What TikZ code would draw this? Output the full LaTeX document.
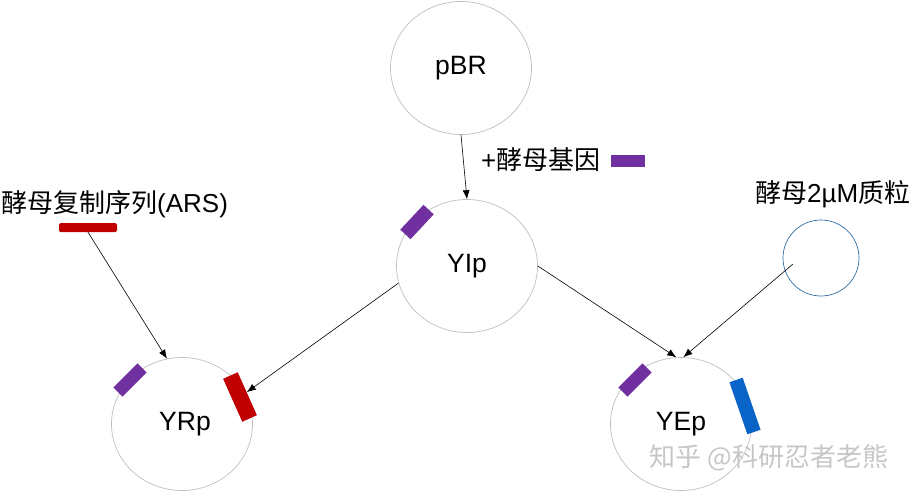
\documentclass[tikz,border=0pt]{standalone}
\usepackage{fontspec}
\setmainfont{Liberation Sans}
\newfontfamily\cjk{Noto Sans CJK SC}
\usetikzlibrary{arrows.meta,shapes.geometric}
\definecolor{ringgray}{HTML}{BFBFBF}
\definecolor{genepurple}{HTML}{7030A0}
\definecolor{arsred}{HTML}{C00000}
\definecolor{twomublue}{HTML}{0A64C8}
\definecolor{twomuring}{HTML}{2E6DA4}
\tikzset{
  plasmid/.style={draw=ringgray, line width=0.7pt, ellipse, minimum width=141pt,
    minimum height=133pt, inner sep=0pt, font=\fontsize{26.5}{30}\selectfont},
  genebar/.style={fill=#1, inner sep=0pt},
  link/.style={-{Latex[length=9pt,width=7pt]}, line width=0.6pt},
  caption/.style={anchor=west, inner sep=0pt, font=\fontsize{26}{30}\selectfont},
}
\begin{document}
\begin{tikzpicture}[x=1pt,y=-1pt]
  \useasboundingbox (0,0) rectangle (916,496);
  % plasmids
  \node[plasmid] (pbr) at (461,68) {pBR};
  \node[plasmid] (yip) at (467,266) {YIp};
  \node[plasmid] (yrp) at (182,424) {\hspace{6pt}YRp};
  \node[plasmid] (yep) at (681,424) {YEp};
  \node[circle, draw=twomuring, line width=0.7pt, minimum size=76pt, inner sep=0pt] (twomu) at (821,258) {};
  \coordinate (twomuin) at (793,264);
  % captions
  \node[caption] (genetext) at (481,160) {+{\cjk 酵母基因}};
  \node[caption] (arstext) at (1,204) {{\cjk 酵母复制序列}(ARS)};
  \node[caption] (twomutext) at (755,194) {{\cjk 酵母}2µM{\cjk 质粒}};
  % gene pieces
  \node[genebar=genepurple, minimum width=34pt, minimum height=12pt] (genebar) at (628,161) {};
  \node[genebar=arsred, minimum width=58pt, minimum height=9pt, rounded corners=1.5pt] (arsbar) at (88,227.5) {};
  \node[genebar=genepurple, minimum width=34pt, minimum height=14pt, rotate=47] (yipgene) at (417,222) {};
  \node[genebar=genepurple, minimum width=34pt, minimum height=13pt, rotate=45] (yrpgene) at (130,380) {};
  \node[genebar=arsred, minimum width=47pt, minimum height=16pt, rotate=-66] (yrpars) at (240,397) {};
  \node[genebar=genepurple, minimum width=34pt, minimum height=13pt, rotate=45] (yepgene) at (635,380) {};
  \node[genebar=twomublue, minimum width=55pt, minimum height=14pt, rotate=-71] (yeptwomu) at (745,406) {};
  % steps
  \draw[link] (pbr.south) -- (yip.north);
  \draw[link] (arsbar.south) -- (yrp.103);
  \draw[link] (yip.194) -- (yrpars);
  \draw[link] (yip.east) -- (yep.94);
  \draw[link] (twomuin) -- (yep.88);
  % watermark
  \node[text=gray!45, font=\fontsize{26}{30}\selectfont\cjk] (mark) at (769,458) {知乎 @科研忍者老熊};
\end{tikzpicture}
\end{document}
